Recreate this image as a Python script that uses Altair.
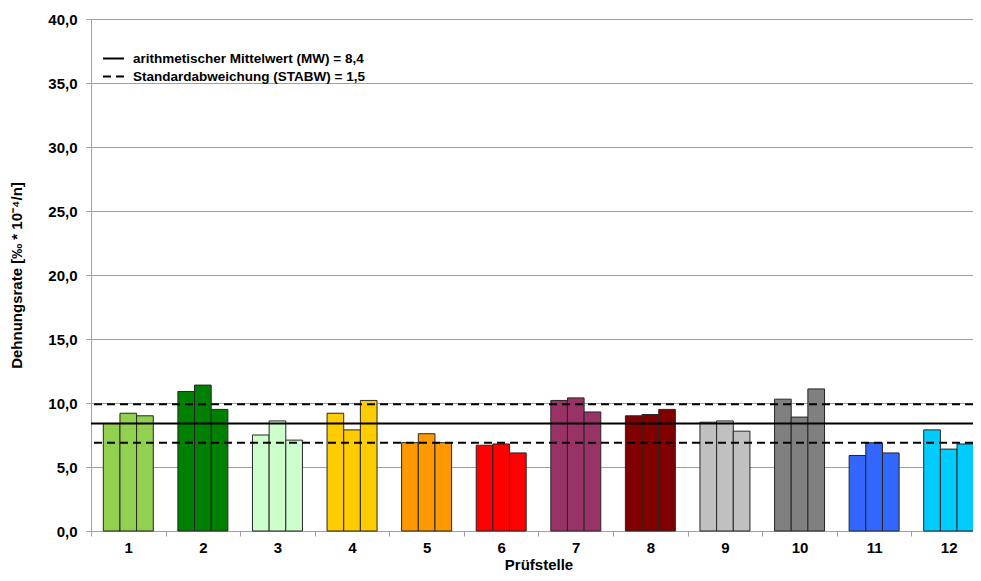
import altair as alt
import pandas as pd

groups = [str(i) for i in range(1, 13)]
reps = ["a", "b", "c"]
values = [
    [8.4, 9.2, 9.0],
    [10.9, 11.4, 9.5],
    [7.5, 8.6, 7.1],
    [9.2, 7.9, 10.2],
    [6.9, 7.6, 6.9],
    [6.7, 6.8, 6.1],
    [10.2, 10.4, 9.3],
    [9.0, 9.1, 9.5],
    [8.5, 8.6, 7.8],
    [10.3, 8.9, 11.1],
    [5.9, 6.9, 6.1],
    [7.9, 6.4, 6.8],
]
colors = ["#92D050", "#008000", "#CCFFCC", "#FFCC00", "#FF9900", "#FF0000",
          "#993366", "#800000", "#C0C0C0", "#808080", "#3366FF", "#00CCFF"]
mean_value = 8.4
std_value = 1.5
label_mean = "arithmetischer Mittelwert (MW) = 8,4"
label_std = "Standardabweichung (STABW) = 1,5"

rows = []
for g, vals in zip(groups, values):
    for r, v in zip(reps, vals):
        rows.append({"group": g, "rep": r, "value": v})
bars_df = pd.DataFrame(rows)

lines_df = pd.DataFrame([
    {"label": label_mean, "y": mean_value},
    {"label": label_std, "y": mean_value + std_value},
    {"label": label_std, "y": mean_value - std_value},
])

FONT = "Liberation Sans"
GRID = "#A0A0A0"

bars = alt.Chart(bars_df).mark_bar(stroke="#262626", strokeWidth=1).encode(
    x=alt.X("group:N", sort=groups,
            scale=alt.Scale(paddingInner=0, paddingOuter=0),
            axis=alt.Axis(title="Prüfstelle", labelAngle=0, tickBand="extent",
                          domainColor=GRID, tickColor=GRID, tickSize=5,
                          labelPadding=4, titlePadding=2)),
    xOffset=alt.XOffset("rep:N", sort=reps,
                        scale=alt.Scale(paddingInner=0, paddingOuter=0.738)),
    y=alt.Y("value:Q",
            scale=alt.Scale(domain=[0, 40], nice=False),
            axis=alt.Axis(title="Dehnungsrate [‰ * 10⁻⁴/n]",
                          values=list(range(0, 41, 5)),
                          labelExpr="replace(format(datum.value, '.1f'), '.', ',')",
                          grid=True, gridColor=GRID, domainColor=GRID,
                          tickColor=GRID, tickSize=5, labelPadding=9,
                          titlePadding=23)),
    color=alt.Color("group:N", sort=groups,
                    scale=alt.Scale(domain=groups, range=colors), legend=None),
)

rules = alt.Chart(lines_df).mark_rule(color="black", strokeWidth=2).encode(
    y=alt.Y("y:Q"),
    strokeDash=alt.StrokeDash(
        "label:N",
        scale=alt.Scale(domain=[label_mean, label_std], range=[[1, 0], [8, 5]]),
        legend=alt.Legend(title=None, orient="none", legendX=11, legendY=28,
                          symbolType="stroke", symbolSize=441,
                          symbolStrokeColor="black", symbolStrokeWidth=2,
                          labelFont=FONT, labelFontSize=13.5, labelFontWeight="bold",
                          labelColor="black", labelOffset=8, labelLimit=0,
                          rowPadding=-10, padding=0),
    ),
)

chart = alt.layer(bars, rules).properties(
    width=895,
    height=512,
    autosize=alt.AutoSizeParams(type="none"),
    padding={"left": 83, "top": 11, "right": -13, "bottom": 42},
).configure_view(stroke=None).configure_axis(
    labelFont=FONT, labelFontSize=15, labelFontWeight="bold", labelColor="black",
    titleFont=FONT, titleFontSize=15, titleFontWeight="bold", titleColor="black",
)

chart.save("out.html", embed_options={"renderer": "svg", "actions": False})
